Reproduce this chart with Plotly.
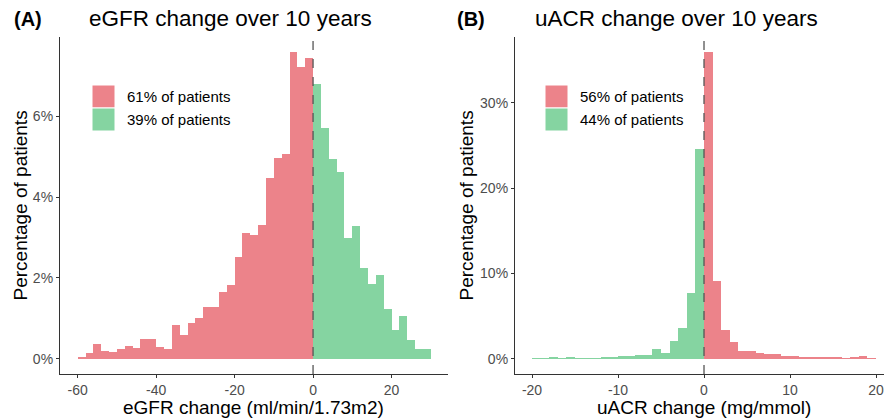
import plotly.graph_objects as go

# ---------------- data ----------------
# Panel A: eGFR change, bins of width 2 from -60 to 30 (percent of patients)
egfr_start = -60
egfr_binwidth = 2
egfr_decline = [0.05, 0.14, 0.37, 0.18, 0.17, 0.24, 0.32, 0.26, 0.49, 0.49,
                0.28, 0.24, 0.83, 0.59, 0.89, 1.00, 1.28, 1.28, 1.65, 1.82,
                2.52, 3.11, 3.06, 3.30, 4.48, 4.96, 5.07, 7.58, 7.22, 7.44]
egfr_increase = [6.80, 5.71, 4.94, 4.61, 2.99, 3.29, 2.25, 1.84, 2.07, 1.24,
                 0.72, 1.05, 0.47, 0.24, 0.24]
egfr_labels = ["61% of patients", "39% of patients"]
egfr_xticks = [-60, -40, -20, 0, 20]
egfr_yticks = [0, 2, 4, 6]

# Panel B: uACR change, bins of width 1 from -20 to 20 (percent of patients)
uacr_start = -20
uacr_binwidth = 1
uacr_decrease = [0.08, 0.08, 0.23, 0.04, 0.12, 0.04, 0.04, 0.04, 0.12, 0.23,
                 0.31, 0.31, 0.43, 0.43, 1.17, 0.62, 2.07, 3.63, 7.72, 24.6]
uacr_increase = [35.9, 9.12, 3.35, 1.99, 0.86, 0.90, 0.70, 0.51, 0.58, 0.31,
                 0.27, 0.16, 0.12, 0.23, 0.20, 0.16, 0.04, 0.16, 0.35, 0.04]
uacr_labels = ["56% of patients", "44% of patients"]
uacr_xticks = [-20, -10, 0, 10, 20]
uacr_yticks = [0, 10, 20, 30]

RED = "#EC838A"
GREEN = "#85D4A1"
W, H = 884, 418
FONT = "Liberation Sans, Arial, sans-serif"


def px(x):
    return x / W


def py(y):
    return 1 - y / H


fig = go.Figure()

# ---- Panel A bars ----
xa_red = [egfr_start + egfr_binwidth * (i + 0.5) for i in range(len(egfr_decline))]
xa_green = [0 + egfr_binwidth * (i + 0.5) for i in range(len(egfr_increase))]
fig.add_trace(go.Bar(x=xa_red, y=egfr_decline, width=egfr_binwidth, marker=dict(color=RED, line=dict(width=0)),
                     xaxis="x", yaxis="y", showlegend=False))
fig.add_trace(go.Bar(x=xa_green, y=egfr_increase, width=egfr_binwidth, marker=dict(color=GREEN, line=dict(width=0)),
                     xaxis="x", yaxis="y", showlegend=False))

# ---- Panel B bars ----
xb_green = [uacr_start + uacr_binwidth * (i + 0.5) for i in range(len(uacr_decrease))]
xb_red = [0 + uacr_binwidth * (i + 0.5) for i in range(len(uacr_increase))]
fig.add_trace(go.Bar(x=xb_green, y=uacr_decrease, width=uacr_binwidth, marker=dict(color=GREEN, line=dict(width=0)),
                     xaxis="x2", yaxis="y2", showlegend=False))
fig.add_trace(go.Bar(x=xb_red, y=uacr_increase, width=uacr_binwidth, marker=dict(color=RED, line=dict(width=0)),
                     xaxis="x2", yaxis="y2", showlegend=False))

amax = max(egfr_decline + egfr_increase)
bmax = max(uacr_decrease + uacr_increase)

tickfont = dict(family=FONT, size=14, color="#4D4D4D")
common = dict(showgrid=False, zeroline=False, showline=True, linecolor="#333333", linewidth=1.2,
              ticks="outside", ticklen=3, tickcolor="#333333", tickfont=tickfont, automargin=False)

fig.update_layout(
    template="none",
    width=W, height=H,
    margin=dict(l=0, r=0, t=0, b=0, autoexpand=False),
    paper_bgcolor="white", plot_bgcolor="white",
    barmode="overlay", bargap=0,
    font=dict(family=FONT, color="black"),
    xaxis=dict(domain=[px(60), px(448.4)], range=[-64.5, 34.5], tickmode="array", tickvals=egfr_xticks,
               ticktext=[str(v) for v in egfr_xticks], anchor="y", **common),
    yaxis=dict(domain=[py(374), py(37)], range=[-0.05 * amax, 1.05 * amax], tickmode="array",
               tickvals=egfr_yticks, ticktext=[f"{v}%" for v in egfr_yticks], anchor="x", **common),
    xaxis2=dict(domain=[px(515), 1.0], range=[-21.98, 20.93], tickmode="array", tickvals=uacr_xticks,
                ticktext=[str(v) for v in uacr_xticks], anchor="y2", **common),
    yaxis2=dict(domain=[py(374), py(37)], range=[-0.05 * bmax, 1.05 * bmax], tickmode="array",
                tickvals=uacr_yticks, ticktext=[f"{v}%" for v in uacr_yticks], anchor="x2", **common),
)

shapes = []
# dashed zero lines
for xr, yr in (("x", "y domain"), ("x2", "y2 domain")):
    shapes.append(dict(type="line", xref=xr, yref=yr, x0=0, x1=0, y0=0, y1=1,
                       line=dict(color="#555555", width=1.3, dash="dash"), layer="above"))

annotations = []
# legends (drawn as key boxes + labels)
for kx0, tx, labels in ((92, 125, egfr_labels), (545, 578, uacr_labels)):
    for j, (col, lab) in enumerate(zip([RED, GREEN], labels)):
        y0 = 85 + 23 * j
        shapes.append(dict(type="rect", xref="paper", yref="paper", x0=px(kx0), x1=px(kx0 + 23),
                           y0=py(y0 + 23), y1=py(y0), fillcolor=col, line=dict(color="white", width=1)))
        annotations.append(dict(xref="paper", yref="paper", x=px(tx), y=py(y0 + 11.5), text=lab,
                                showarrow=False, xanchor="left", yanchor="middle",
                                font=dict(family=FONT, size=15, color="black")))

# titles
for x, txt in ((12, "<b>(A)</b>"), (455, "<b>(B)</b>")):
    annotations.append(dict(xref="paper", yref="paper", x=px(x), y=py(19), text=txt, showarrow=False,
                            xanchor="left", yanchor="middle", font=dict(family=FONT, size=20, color="black")))
for x, txt in ((87, "eGFR change over 10 years"), (533, "uACR change over 10 years")):
    annotations.append(dict(xref="paper", yref="paper", x=px(x), y=py(19), text=txt, showarrow=False,
                            xanchor="left", yanchor="middle", font=dict(family=FONT, size=22.5, color="black")))

# axis titles
for x, txt in ((254, "eGFR change (ml/min/1.73m2)"), (704, "uACR change (mg/mmol)")):
    annotations.append(dict(xref="paper", yref="paper", x=px(x), y=py(407), text=txt, showarrow=False,
                            xanchor="center", yanchor="middle", font=dict(family=FONT, size=19, color="black")))
for x in (20, 466):
    annotations.append(dict(xref="paper", yref="paper", x=px(x), y=py(205.5), text="Percentage of patients",
                            showarrow=False, textangle=-90, xanchor="center", yanchor="middle",
                            font=dict(family=FONT, size=19, color="black")))

fig.update_layout(shapes=shapes, annotations=annotations)
fig.write_html("out.html", config={"displayModeBar": False},
               post_script="document.body.style.margin='0';document.body.style.padding='0';"
                           "document.body.style.overflow='hidden';")
